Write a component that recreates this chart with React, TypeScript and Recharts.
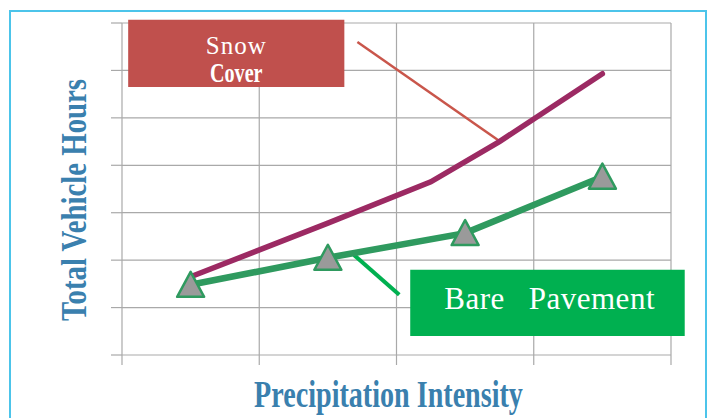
import React from "react";
import {
  LineChart,
  Line,
  XAxis,
  YAxis,
  CartesianGrid,
  ReferenceArea,
  ReferenceLine,
} from "recharts";

// axis ticks (no labels shown, only grid + tick marks)
const xTicks = [0, 1, 2, 3, 4];
const yTicks = [0, 1, 2, 3, 4, 5, 6, 7];

// series values
const snowX = [0.5, 1.5, 2.25, 2.75, 3.5];
const snowY = [1.65, 2.78, 3.65, 4.5, 5.93];
const bareX = [0.5, 1.5, 2.5, 3.5];
const bareY = [1.48, 2.05, 2.57, 3.76];

// callout boxes [x1, x2, y1, y2] and pointer segments, in data units
const snowBox = [0.045, 1.62, 5.65, 7.07];
const bareBox = [2.1, 4.1, 0.4, 1.8];
const snowPointer = [
  [1.715, 6.6],
  [2.76, 4.49],
];
const barePointer = [
  [1.69, 2.11],
  [2.02, 1.27],
];

const snowData = snowX.map((x, i) => ({ x, y: snowY[i] }));
const bareData = bareX.map((x, i) => ({ x, y: bareY[i] }));

const GRID = "#a9a9a9";
const TITLE = "#3a80ae";
const SERIF = "'Liberation Serif', 'DejaVu Serif', serif";

const Triangle = (props: any) => {
  const { cx, cy, index } = props;
  if (cx == null || cy == null) return <g key={`t-${index}`} />;
  return (
    <polygon
      key={`t-${index}`}
      points={`${cx},${cy - 13} ${cx - 13.5},${cy + 12} ${cx + 13.5},${cy + 12}`}
      fill="#9a9a9a"
      stroke="#2f9a5f"
      strokeWidth={2.5}
      strokeLinejoin="round"
    />
  );
};

const SnowLabel = (props: any) => {
  const { x, y, width } = props.viewBox;
  const cx = x + width / 2;
  return (
    <g>
      <text
        x={cx}
        y={y + 34}
        textAnchor="middle"
        fill="#fff"
        style={{ fontFamily: SERIF, fontSize: 25, letterSpacing: 1 }}
      >
        Snow
      </text>
      <text
        transform={`translate(${cx}, ${y + 62}) scale(0.72, 1)`}
        textAnchor="middle"
        fill="#fff"
        style={{ fontFamily: SERIF, fontSize: 28, fontWeight: "bold" }}
      >
        Cover
      </text>
    </g>
  );
};

const BareLabel = (props: any) => {
  const { x, y } = props.viewBox;
  return (
    <text
      x={x + 34}
      y={y + 39}
      fill="#fff"
      style={{ fontFamily: SERIF, fontSize: 31, letterSpacing: 0.5 }}
    >
      Bare
      <tspan dx={24}>Pavement</tspan>
    </text>
  );
};

const YTitle = (props: any) => {
  const { x, y, height } = props.viewBox;
  return (
    <text
      transform={`translate(${x + 24}, ${y + height / 2 + 11}) rotate(-90) scale(0.8, 1)`}
      textAnchor="middle"
      fill={TITLE}
      style={{ fontFamily: SERIF, fontWeight: "bold", fontSize: 36 }}
    >
      Total Vehicle Hours
    </text>
  );
};

const XTitle = (props: any) => {
  const { x, y, width } = props.viewBox;
  return (
    <text
      transform={`translate(${x + width / 2 - 8}, ${y + 52}) scale(0.74, 1)`}
      textAnchor="middle"
      fill={TITLE}
      style={{ fontFamily: SERIF, fontWeight: "bold", fontSize: 38 }}
    >
      Precipitation Intensity
    </text>
  );
};

const NoTick = () => <g />;

export default function App() {
  return (
    <div
      style={{
        position: "absolute",
        left: 0,
        top: 0,
        width: 711,
        height: 418,
        background: "#fff",
        overflow: "hidden",
      }}
    >
      <div
        style={{
          position: "absolute",
          left: 9,
          top: 10,
          width: 694,
          height: 420,
          border: "2.5px solid #4cc4ea",
        }}
      />
      <div style={{ position: "absolute", left: 0, top: 0 }}>
        <LineChart
          width={711}
          height={418}
          margin={{ top: 23, right: 40, bottom: 0, left: 62 }}
        >
          <CartesianGrid stroke={GRID} strokeWidth={1.2} />
          <XAxis
            dataKey="x"
            type="number"
            domain={[0, 4]}
            ticks={xTicks}
            height={63}
            axisLine={false}
            tickLine={{ stroke: GRID, strokeWidth: 1.2 }}
            tickSize={10}
            tick={NoTick}
            label={{ content: XTitle }}
          />
          <YAxis
            type="number"
            domain={[0, 7]}
            ticks={yTicks}
            width={60}
            axisLine={false}
            tickLine={{ stroke: GRID, strokeWidth: 1.2 }}
            tickSize={11}
            tick={NoTick}
            label={{ content: YTitle }}
          />
          <ReferenceArea
            x1={snowBox[0]}
            x2={snowBox[1]}
            y1={snowBox[2]}
            y2={snowBox[3]}
            fill="#c0504d"
            fillOpacity={1}
            stroke="none"
            ifOverflow="visible"
            label={{ content: SnowLabel }}
          />
          <ReferenceArea
            x1={bareBox[0]}
            x2={bareBox[1]}
            y1={bareBox[2]}
            y2={bareBox[3]}
            fill="#00b050"
            fillOpacity={1}
            stroke="none"
            ifOverflow="visible"
            label={{ content: BareLabel }}
          />
          <ReferenceLine
            segment={snowPointer.map(([x, y]) => ({ x, y }))}
            stroke="#c9564b"
            strokeWidth={2.5}
            ifOverflow="visible"
          />
          <ReferenceLine
            segment={barePointer.map(([x, y]) => ({ x, y }))}
            stroke="#00b050"
            strokeWidth={4}
            ifOverflow="visible"
          />
          <Line
            data={snowData}
            dataKey="y"
            type="linear"
            stroke="#9c2a63"
            strokeWidth={5.5}
            strokeLinecap="round"
            dot={false}
            activeDot={false}
            isAnimationActive={false}
          />
          <Line
            data={bareData}
            dataKey="y"
            type="linear"
            stroke="#2f9a5f"
            strokeWidth={6.5}
            dot={Triangle}
            activeDot={false}
            isAnimationActive={false}
          />
        </LineChart>
      </div>
    </div>
  );
}
